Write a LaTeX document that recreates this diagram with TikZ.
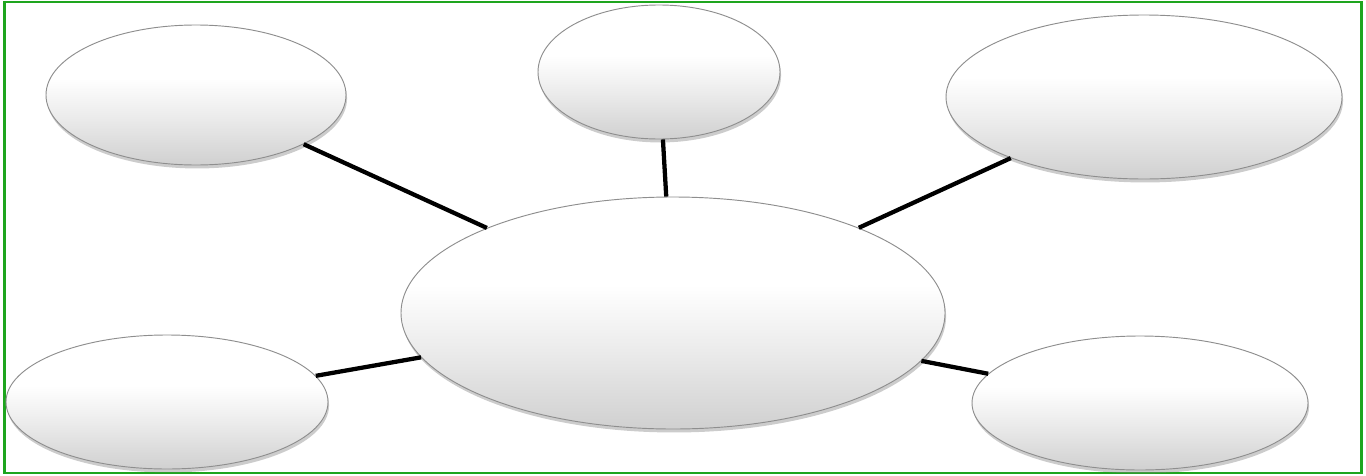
\documentclass[tikz,border=0pt]{standalone}
\usepackage{xcolor}
\usepackage{tikz}
\usetikzlibrary{shapes.geometric,shadows}
\definecolor{framegreen}{HTML}{1EA51E}
\definecolor{bubbleedge}{HTML}{8E8E8E}
\definecolor{bubblelow}{HTML}{D0D0D0}
\definecolor{bubblemid}{HTML}{EBEBEB}
\pgfdeclareverticalshading{bubbleshade}{100bp}{color(0bp)=(bubblelow); color(25bp)=(bubblelow);
  color(42bp)=(bubblemid); color(56bp)=(white); color(100bp)=(white)}

\begin{document}
\begin{tikzpicture}[x=0.75pt,y=-0.75pt,
    bubble/.style={ellipse,inner sep=0pt,draw=bubbleedge,line width=.7pt,shading=bubbleshade,
      drop shadow={shadow xshift=.8pt,shadow yshift=-2.6pt,opacity=.4}},
    spoke/.style={black,line width=3.2pt}]
    \useasboundingbox (0,0) rectangle (1366,475);
    \draw[framegreen,line width=1.7pt] (4.5,2) rectangle (1361.5,473);
    \node[bubble,minimum width=225pt,minimum height=105pt] (nw) at (196,95) {};
    \node[bubble,minimum width=181.5pt,minimum height=100.5pt] (north) at (659,72) {};
    \node[bubble,minimum width=297pt,minimum height=123pt] (ne) at (1144,97) {};
    \node[bubble,minimum width=408pt,minimum height=174pt] (hub) at (673,313) {};
    \node[bubble,minimum width=241.5pt,minimum height=100.5pt] (sw) at (167,402) {};
    \node[bubble,minimum width=252pt,minimum height=100.5pt] (se) at (1140,403) {};
    \foreach \leaf in {nw,north,ne,sw,se}
      \draw[spoke] (hub) -- (\leaf);
  \end{tikzpicture}
\end{document}
